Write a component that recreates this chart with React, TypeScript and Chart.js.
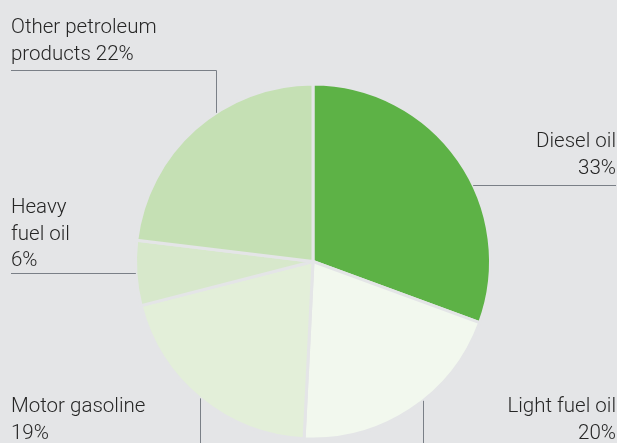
import React, { useEffect, useRef } from "react";
import { Chart, registerables } from "chart.js";

Chart.register(...registerables);

const categories = ["Diesel oil", "Light fuel oil", "Motor gasoline", "Heavy fuel oil", "Other petroleum products"];
const shares = [30.6, 20.2, 20.2, 5.9, 23.1];
const labelTexts = [
  ["Diesel oil", "33%"],
  ["Light fuel oil", "20%"],
  ["Motor gasoline", "19%"],
  ["Heavy", "fuel oil", "6%"],
  ["Other petroleum", "products 22%"],
];
const sliceColors = ["#5db246", "#f2f8ee", "#e3efd9", "#d7e8cb", "#c5e0b4"];

const BG = "#e4e5e7";
const TEXT = "#262626";
const LINE = "#7a7f87";

// label layout: text anchor, alignment, leader geometry
const layouts = [
  { x: 616, y: 147, align: "right", leader: { kind: "hRight", y: 185, end: 616 } },
  { x: 616, y: 412, align: "right", leader: { kind: "vDown", x: 423, end: 443 } },
  { x: 11, y: 412, align: "left", leader: { kind: "vDown", x: 200, end: 443 } },
  { x: 11, y: 213, align: "left", leader: { kind: "hLeft", y: 273, end: 11 } },
  { x: 11, y: 33, align: "left", leader: { kind: "elbow", y: 70, x: 216, end: 11 } },
];

const labelPlugin = {
  id: "leaderLabels",
  afterDraw(chart: any) {
    const ctx = chart.ctx;
    const meta = chart.getDatasetMeta(0);
    ctx.save();
    ctx.strokeStyle = LINE;
    ctx.lineWidth = 1;
    layouts.forEach((lay: any, i: number) => {
      const arc = meta.data[i];
      const cx = arc.x, cy = arc.y, r = arc.outerRadius;
      const L = lay.leader;
      ctx.beginPath();
      if (L.kind === "hRight") {
        const dx = Math.sqrt(Math.max(r * r - (L.y - cy) ** 2, 0));
        ctx.moveTo(cx + dx, L.y + 0.5);
        ctx.lineTo(L.end, L.y + 0.5);
      } else if (L.kind === "hLeft") {
        const dx = Math.sqrt(Math.max(r * r - (L.y - cy) ** 2, 0));
        ctx.moveTo(L.end, L.y + 0.5);
        ctx.lineTo(cx - dx, L.y + 0.5);
      } else if (L.kind === "vDown") {
        const dy = Math.sqrt(Math.max(r * r - (L.x - cx) ** 2, 0));
        ctx.moveTo(L.x + 0.5, cy + dy);
        ctx.lineTo(L.x + 0.5, L.end);
      } else if (L.kind === "elbow") {
        const dy = Math.sqrt(Math.max(r * r - (L.x - cx) ** 2, 0));
        ctx.moveTo(L.end, L.y + 0.5);
        ctx.lineTo(L.x + 0.5, L.y + 0.5);
        ctx.lineTo(L.x + 0.5, cy - dy);
      }
      ctx.stroke();

      ctx.fillStyle = TEXT;
      ctx.font = "300 20.5px Roboto";
      ctx.textAlign = lay.align;
      ctx.textBaseline = "alphabetic";
      labelTexts[i].forEach((t, k) => {
        ctx.fillText(t, lay.x, lay.y + k * 26.5);
      });
    });
    ctx.restore();
  },
};

export default function App() {
  const ref = useRef<HTMLCanvasElement>(null);
  useEffect(() => {
    document.body.style.margin = "0";
    document.body.style.background = BG;
    const chart = new Chart(ref.current!, {
      type: "pie",
      data: {
        labels: categories,
        datasets: [
          {
            data: shares,
            backgroundColor: sliceColors,
            borderColor: BG,
            borderWidth: 3,
            hoverOffset: 0,
          },
        ],
      },
      options: {
        animation: false,
        responsive: false,
        maintainAspectRatio: false,
        layout: { padding: { top: 82, bottom: 2, left: 134, right: 125 } },
        plugins: {
          legend: { display: false },
          tooltip: { enabled: false },
        },
      },
      plugins: [labelPlugin],
    });
    return () => chart.destroy();
  }, []);
  return (
    <div style={{ width: 617, height: 443, background: BG }}>
      <canvas ref={ref} width={617} height={443} style={{ display: "block" }} />
    </div>
  );
}
